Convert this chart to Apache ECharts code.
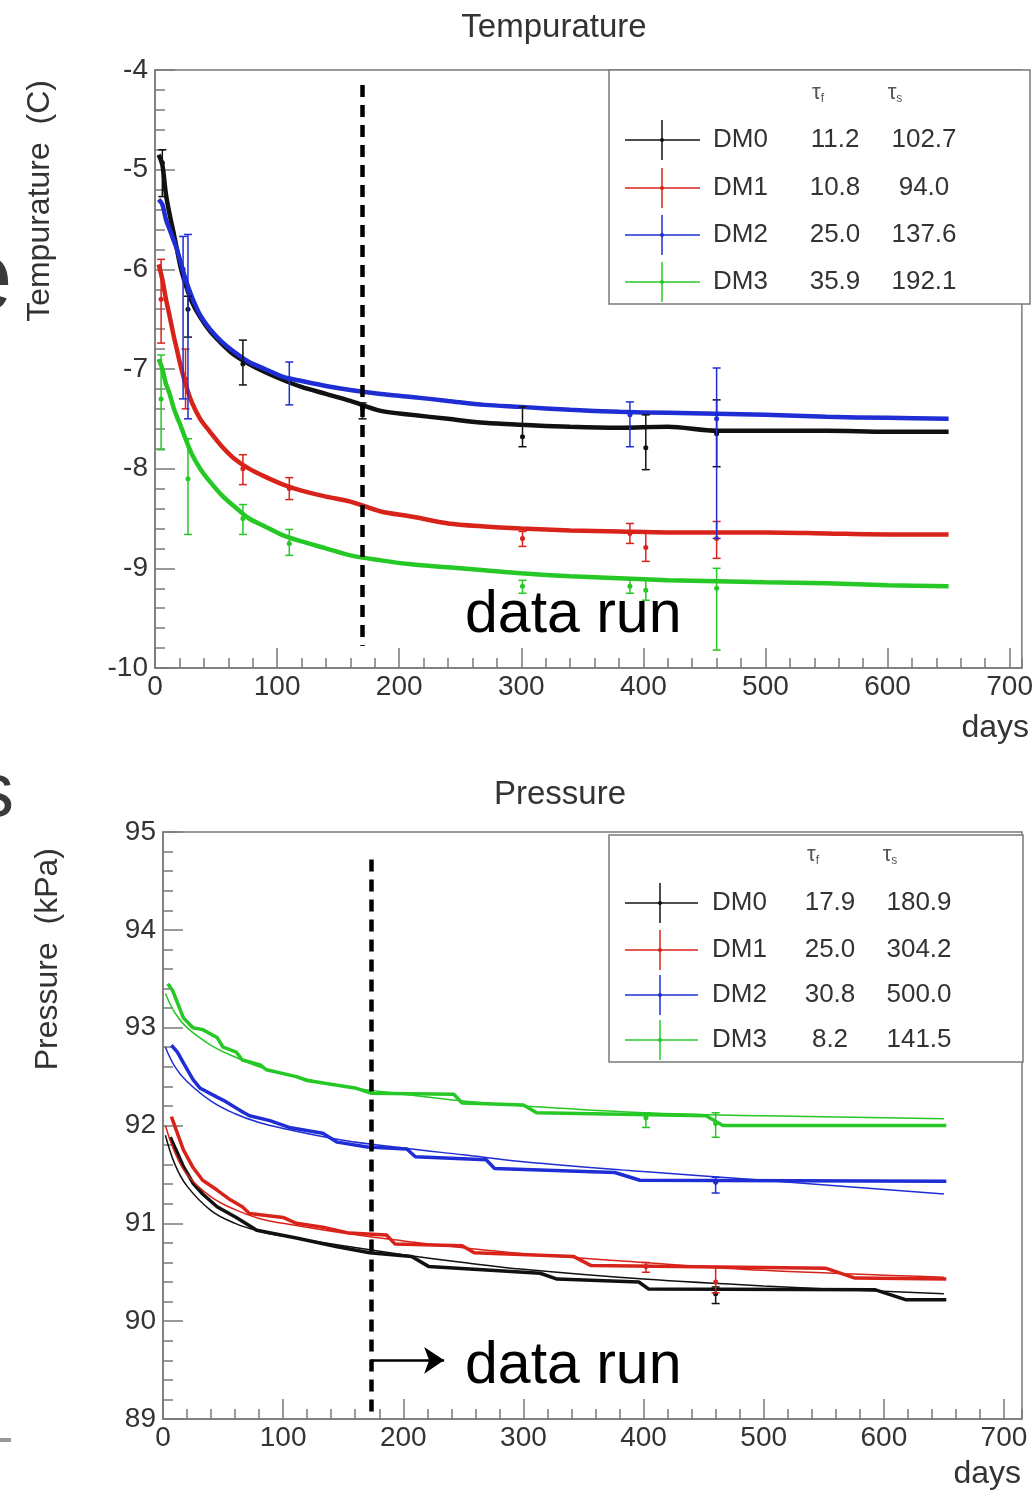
<!DOCTYPE html>
<html>
<head>
<meta charset="utf-8">
<script src="https://cdn.jsdelivr.net/npm/echarts@6/dist/echarts.min.js"></script>
<style>
html,body{margin:0;padding:0;background:#fff;}
#chart{width:1036px;height:1492px;}
</style>
</head>
<body>
<div id="chart"></div>
<script>
// ---------- DATA ----------
const detectors = ['DM0', 'DM1', 'DM2', 'DM3'];
const colors = ['#111111', '#d8231a', '#1f2dd4', '#25c825'];

// Temperature panel
const tempTauF = ['11.2', '10.8', '25.0', '35.9'];
const tempTauS = ['102.7', '94.0', '137.6', '192.1'];
const tempDays = [3, 6, 9, 12, 15, 18, 21, 25, 30, 37, 45, 55, 65, 77, 90, 105, 120, 140, 160, 185, 210, 240, 270, 300, 340, 380, 420, 460, 500, 550, 600, 650];
const tempDM0 = [-4.85, -4.95, -5.25, -5.45, -5.62, -5.8, -5.98, -6.15, -6.32, -6.48, -6.62, -6.75, -6.86, -6.95, -7.03, -7.11, -7.18, -7.25, -7.32, -7.42, -7.46, -7.5, -7.54, -7.56, -7.58, -7.59, -7.58, -7.62, -7.62, -7.62, -7.63, -7.63];
const tempDM1 = [-5.95, -6.1, -6.3, -6.47, -6.65, -6.81, -6.97, -7.15, -7.33, -7.5, -7.63, -7.78, -7.9, -8.0, -8.08, -8.16, -8.22, -8.28, -8.33, -8.43, -8.48, -8.55, -8.58, -8.6, -8.62, -8.63, -8.64, -8.64, -8.64, -8.65, -8.66, -8.66];
const tempDM2 = [-5.3, -5.35, -5.5, -5.6, -5.7, -5.8, -5.93, -6.1, -6.27, -6.46, -6.6, -6.73, -6.83, -6.93, -7.0, -7.08, -7.12, -7.17, -7.21, -7.25, -7.28, -7.32, -7.36, -7.38, -7.41, -7.43, -7.44, -7.45, -7.46, -7.48, -7.49, -7.5];
const tempDM3 = [-6.9, -7.0, -7.15, -7.25, -7.38, -7.48, -7.57, -7.7, -7.85, -8.0, -8.13, -8.27, -8.38, -8.5, -8.58, -8.67, -8.73, -8.8, -8.87, -8.92, -8.96, -8.99, -9.02, -9.05, -9.08, -9.1, -9.12, -9.13, -9.14, -9.15, -9.17, -9.18];
// error bars: [day, value, low, high]
const tempErrDM0 = [[6, -4.93, -5.27, -4.8], [27, -6.4, -6.68, -6.27], [72, -6.95, -7.16, -6.71], [170, -7.4, -7.5, -7.34], [301, -7.68, -7.78, -7.38], [402, -7.79, -8.01, -7.46], [460, -7.65, -7.98, -7.31]];
const tempErrDM1 = [[5, -6.3, -6.74, -5.9], [25, -7.1, -7.4, -6.8], [72, -8.0, -8.16, -7.86], [110, -8.2, -8.31, -8.09], [301, -8.7, -8.78, -8.63], [389, -8.65, -8.75, -8.55], [402, -8.79, -8.93, -8.64], [460, -8.7, -8.9, -8.53]];
const tempErrDM2 = [[23, -6.0, -7.3, -5.67], [27, -6.2, -7.5, -5.65], [110, -7.1, -7.36, -6.93], [389, -7.46, -7.78, -7.33], [460, -7.5, -8.7, -6.99]];
const tempErrDM3 = [[5, -7.3, -7.81, -6.86], [27, -8.1, -8.66, -7.7], [72, -8.5, -8.66, -8.36], [110, -8.75, -8.87, -8.61], [301, -9.18, -9.25, -9.12], [389, -9.18, -9.25, -9.1], [402, -9.22, -9.32, -9.12], [460, -9.2, -9.82, -9.0]];
const tempDataRunDay = 170;

// Pressure panel
const presTauF = ['17.9', '25.0', '30.8', '8.2'];
const presTauS = ['180.9', '304.2', '500.0', '141.5'];
const presDaysDM0 = [6, 12, 17, 25, 33, 45, 61, 78, 111, 145, 172, 207, 221, 314, 328, 396, 404, 593, 618, 652];
const presDM0 = [91.88, 91.72, 91.58, 91.41, 91.3, 91.17, 91.06, 90.93, 90.85, 90.76, 90.7, 90.66, 90.56, 90.49, 90.43, 90.4, 90.33, 90.32, 90.22, 90.22];
const presDaysDM1 = [7, 12, 17, 25, 33, 45, 56, 66, 72, 100, 111, 133, 155, 186, 193, 249, 259, 342, 356, 552, 576, 652];
const presDM1 = [92.09, 91.92, 91.75, 91.57, 91.44, 91.34, 91.24, 91.17, 91.1, 91.06, 91.0, 90.96, 90.9, 90.88, 90.79, 90.77, 90.7, 90.66, 90.57, 90.54, 90.44, 90.43];
const presDaysDM2 = [7, 12, 17, 25, 31, 45, 50, 66, 72, 89, 105, 133, 145, 170, 203, 210, 269, 276, 376, 397, 652];
const presDM2 = [92.82, 92.75, 92.64, 92.47, 92.38, 92.29, 92.26, 92.14, 92.1, 92.05, 91.98, 91.92, 91.83, 91.78, 91.76, 91.68, 91.65, 91.56, 91.52, 91.44, 91.43];
const presDaysDM3 = [4, 8, 17, 25, 33, 45, 50, 61, 66, 81, 86, 111, 120, 161, 173, 242, 249, 300, 311, 452, 466, 652];
const presDM3 = [93.45, 93.38, 93.1, 93.0, 92.98, 92.9, 92.8, 92.75, 92.67, 92.62, 92.57, 92.5, 92.46, 92.38, 92.33, 92.32, 92.23, 92.21, 92.13, 92.1, 92.0, 92.0];
const presFitDays = [2, 10, 20, 40, 60, 80, 100, 150, 200, 250, 300, 400, 500, 650];
const presFitDM0 = [91.9, 91.6, 91.38, 91.13, 91.0, 90.92, 90.87, 90.77, 90.68, 90.6, 90.53, 90.43, 90.36, 90.28];
const presFitDM1 = [92.0, 91.72, 91.5, 91.27, 91.14, 91.05, 91.0, 90.9, 90.82, 90.75, 90.69, 90.6, 90.52, 90.45];
const presFitDM2 = [92.8, 92.6, 92.45, 92.25, 92.12, 92.03, 91.97, 91.85, 91.77, 91.7, 91.63, 91.53, 91.44, 91.3];
const presFitDM3 = [93.35, 93.15, 93.0, 92.82, 92.7, 92.6, 92.53, 92.4, 92.32, 92.25, 92.2, 92.13, 92.1, 92.07];
const presErrDM0 = [[460, 90.28, 90.18, 90.35]];
const presErrDM1 = [[402, 90.56, 90.5, 90.6], [460, 90.4, 90.29, 90.55]];
const presErrDM2 = [[460, 91.42, 91.31, 91.47]];
const presErrDM3 = [[402, 92.08, 91.98, 92.13], [460, 92.02, 91.88, 92.13]];
const presDataRunDay = 173;
const presArrowEndDay = 234;

const xTicks = [0, 100, 200, 300, 400, 500, 600, 700];

// ---------- CHART ----------
const FONT = '"Liberation Sans", Arial, Helvetica, sans-serif';
const FRAME = '#7a7a7a';
const LABEL = '#333333';

function zip(xs, ys) { return xs.map((x, i) => [x, ys[i]]); }

function errItem(params, api) {
  const x = api.value(0), v = api.value(1), lo = api.value(2), hi = api.value(3);
  const p = api.coord([x, v]), a = api.coord([x, lo]), b = api.coord([x, hi]);
  const c = api.visual('color');
  return {
    type: 'group',
    children: [
      {type: 'line', shape: {x1: a[0], y1: a[1], x2: b[0], y2: b[1]}, style: {stroke: c, lineWidth: 1.5}},
      {type: 'line', shape: {x1: a[0] - 4, y1: a[1], x2: a[0] + 4, y2: a[1]}, style: {stroke: c, lineWidth: 1.5}},
      {type: 'line', shape: {x1: b[0] - 4, y1: b[1], x2: b[0] + 4, y2: b[1]}, style: {stroke: c, lineWidth: 1.5}},
      {type: 'circle', shape: {cx: p[0], cy: p[1], r: 2.5}, style: {fill: c}}
    ]
  };
}

function xAxisPair(grid, max) {
  return [
    {
      gridIndex: grid, type: 'value', position: 'bottom', min: 0, max: max, interval: 100,
      axisLine: {show: true, onZero: false, lineStyle: {color: FRAME, width: 1.5}},
      axisTick: {inside: true, length: 20, lineStyle: {color: FRAME, width: 1.5}},
      axisLabel: {fontSize: 28, color: LABEL, fontFamily: FONT, margin: 5, showMaxLabel: false,
        formatter: v => (xTicks.indexOf(v) >= 0 ? String(v) : '')},
      splitLine: {show: false}
    },
    {
      gridIndex: grid, type: 'value', position: 'bottom', offset: 0, min: 0, max: max, interval: 20,
      axisLine: {show: false, onZero: false},
      axisTick: {inside: true, length: 10, lineStyle: {color: FRAME, width: 1.5}},
      axisLabel: {show: false},
      splitLine: {show: false}
    }
  ];
}

function yAxis(grid, min, max) {
  return {
    gridIndex: grid, type: 'value', position: 'left', min: min, max: max, interval: 1,
    axisLine: {show: true, onZero: false, lineStyle: {color: FRAME, width: 1.5}},
    axisTick: {inside: true, length: 20, lineStyle: {color: FRAME, width: 1.5}},
    minorTick: {show: true, splitNumber: 5, length: 10, lineStyle: {color: FRAME, width: 1.5}},
    axisLabel: {fontSize: 28, color: LABEL, fontFamily: FONT, margin: 7},
    splitLine: {show: false}
  };
}

function legend(box, headY, tauX, rowYs, lineX, crossX, labelX, valX, tf, ts) {
  const ch = [];
  ch.push({type: 'rect', shape: {x: box[0], y: box[1], width: box[2], height: box[3]},
    style: {fill: '#fff', stroke: FRAME, lineWidth: 1.5}});
  ['f', 's'].forEach((sub, k) => {
    ch.push({type: 'text', x: tauX[k], y: headY, style: {
      text: '{t|τ}{s|' + sub + '}', align: 'center', verticalAlign: 'middle',
      rich: {t: {fontSize: 22, fontFamily: FONT, fill: '#555'}, s: {fontSize: 12, fontFamily: FONT, fill: '#555', padding: [12, 0, 0, 0]}}
    }});
  });
  detectors.forEach((d, i) => {
    const y = rowYs[i];
    ch.push({type: 'line', shape: {x1: lineX[0], y1: y, x2: lineX[1], y2: y}, style: {stroke: colors[i], lineWidth: 2, opacity: 0.75}});
    ch.push({type: 'line', shape: {x1: crossX, y1: y - 20, x2: crossX, y2: y + 20}, style: {stroke: colors[i], lineWidth: 2, opacity: 0.75}});
    ch.push({type: 'circle', shape: {cx: crossX, cy: y, r: 2}, style: {fill: colors[i]}});
    ch.push({type: 'text', x: labelX, y: y, style: {text: d, fontSize: 26, fontFamily: FONT, fill: LABEL, align: 'left', verticalAlign: 'middle'}});
    ch.push({type: 'text', x: valX[0], y: y, style: {text: tf[i], fontSize: 26, fontFamily: FONT, fill: LABEL, align: 'center', verticalAlign: 'middle'}});
    ch.push({type: 'text', x: valX[1], y: y, style: {text: ts[i], fontSize: 26, fontFamily: FONT, fill: LABEL, align: 'center', verticalAlign: 'middle'}});
  });
  return {type: 'group', children: ch, z: 100};
}

const tempSeries = [tempDM0, tempDM1, tempDM2, tempDM3];
const tempErrs = [tempErrDM0, tempErrDM1, tempErrDM2, tempErrDM3];
const presDays = [presDaysDM0, presDaysDM1, presDaysDM2, presDaysDM3];
const presSeries = [presDM0, presDM1, presDM2, presDM3];
const presFits = [presFitDM0, presFitDM1, presFitDM2, presFitDM3];
const presErrs = [presErrDM0, presErrDM1, presErrDM2, presErrDM3];

const series = [];
const drawOrder = [0, 1, 3, 2];
drawOrder.forEach(i => {
  series.push({
    type: 'line', name: detectors[i] + ' T', xAxisIndex: 0, yAxisIndex: 0,
    data: zip(tempDays, tempSeries[i]), showSymbol: false, smooth: 0.3,
    lineStyle: {color: colors[i], width: 4.5}, itemStyle: {color: colors[i]}, z: 3
  });
  series.push({
    type: 'custom', name: detectors[i] + ' T err', xAxisIndex: 0, yAxisIndex: 0,
    data: tempErrs[i], renderItem: errItem, encode: {x: 0, y: [1, 2, 3]},
    itemStyle: {color: colors[i]}, z: 4
  });
});
[0, 1, 2, 3].forEach(i => {
  series.push({
    type: 'line', name: detectors[i] + ' P fit', xAxisIndex: 2, yAxisIndex: 1,
    data: zip(presFitDays, presFits[i]), showSymbol: false, smooth: 0.4,
    lineStyle: {color: colors[i], width: 1.5}, z: 3
  });
  series.push({
    type: 'line', name: detectors[i] + ' P', xAxisIndex: 2, yAxisIndex: 1,
    data: zip(presDays[i], presSeries[i]), showSymbol: false,
    lineStyle: {color: colors[i], width: 3.5}, z: 3
  });
  series.push({
    type: 'custom', name: detectors[i] + ' P err', xAxisIndex: 2, yAxisIndex: 1,
    data: presErrs[i], renderItem: errItem, encode: {x: 0, y: [1, 2, 3]},
    itemStyle: {color: colors[i]}, z: 4
  });
});
// dashed "data run" markers
series.push({
  type: 'line', xAxisIndex: 0, yAxisIndex: 0, data: [], silent: true,
  markLine: {silent: true, symbol: 'none', label: {show: false},
    lineStyle: {color: '#000', width: 4.5, type: [12, 8]},
    data: [[{coord: [tempDataRunDay, -4.15]}, {coord: [tempDataRunDay, -9.78]}]]}
});
series.push({
  type: 'line', xAxisIndex: 2, yAxisIndex: 1, data: [], silent: true,
  markLine: {silent: true, symbol: 'none', label: {show: false},
    lineStyle: {color: '#000', width: 4.5, type: [12, 8]},
    data: [[{coord: [presDataRunDay, 94.72]}, {coord: [presDataRunDay, 89.0]}]]}
});
series.push({
  type: 'line', xAxisIndex: 2, yAxisIndex: 1, data: [], silent: true,
  markLine: {silent: true, symbol: ['none', 'arrow'], symbolSize: 20, label: {show: false},
    lineStyle: {color: '#000', width: 2.5, type: 'solid'},
    data: [[{coord: [presDataRunDay, 89.6]}, {coord: [presArrowEndDay, 89.6]}]]}
});

const option = {
  animation: false,
  backgroundColor: '#fff',
  title: [
    {text: 'Tempurature', left: 549, top: 6, textAlign: 'center', textStyle: {fontSize: 33, fontWeight: 'normal', color: LABEL, fontFamily: FONT}},
    {text: 'Pressure', left: 555, top: 773, textAlign: 'center', textStyle: {fontSize: 33, fontWeight: 'normal', color: LABEL, fontFamily: FONT}}
  ],
  grid: [
    {left: 155, top: 70, width: 875, height: 598, show: true, borderColor: FRAME, borderWidth: 1.5, backgroundColor: 'transparent'},
    {left: 163, top: 832, width: 859, height: 587, show: true, borderColor: FRAME, borderWidth: 1.5, backgroundColor: 'transparent'}
  ],
  xAxis: xAxisPair(0, 710).concat(xAxisPair(1, 715)),
  yAxis: [yAxis(0, -10, -4), yAxis(1, 89, 95)],
  series: series,
  graphic: [
    // axis titles
    {type: 'text', x: 40, y: 80, rotation: Math.PI / 2, style: {text: 'Tempurature  (C)', fontSize: 32, fontFamily: FONT, fill: LABEL, align: 'right', verticalAlign: 'middle'}},
    {type: 'text', x: 48, y: 848, rotation: Math.PI / 2, style: {text: 'Pressure  (kPa)', fontSize: 32, fontFamily: FONT, fill: LABEL, align: 'right', verticalAlign: 'middle'}},
    {type: 'text', x: 1029, y: 728, style: {text: 'days', fontSize: 32, fontFamily: FONT, fill: LABEL, align: 'right', verticalAlign: 'middle'}},
    {type: 'text', x: 1021, y: 1474, style: {text: 'days', fontSize: 32, fontFamily: FONT, fill: LABEL, align: 'right', verticalAlign: 'middle'}},
    // annotations
    {type: 'text', x: 465, y: 616, z: 50, style: {text: 'data run', fontSize: 59, fontFamily: FONT, fill: '#000', align: 'left', verticalAlign: 'middle'}},
    {type: 'text', x: 465, y: 1367, z: 50, style: {text: 'data run', fontSize: 59, fontFamily: FONT, fill: '#000', align: 'left', verticalAlign: 'middle'}},
    // slide fragments at left edge
    {type: 'text', x: -43, y: 282, style: {text: 'e', fontSize: 100, fontFamily: FONT, fill: '#3a3a3a', align: 'left', verticalAlign: 'middle'}},
    {type: 'text', x: -24, y: 795, style: {text: 's', fontSize: 76, fontFamily: FONT, fill: '#3a3a3a', align: 'left', verticalAlign: 'middle'}},
    {type: 'rect', shape: {x: 0, y: 1438, width: 11, height: 4}, style: {fill: '#999'}},
    // legends
    legend([609, 70, 421, 234], 93, [818, 895], [140, 188, 235, 282], [625, 700], 662, 713, [835, 924], tempTauF, tempTauS),
    legend([609, 835, 414, 227], 855, [813, 890], [903, 950, 995, 1040], [625, 698], 660, 712, [830, 919], presTauF, presTauS)
  ]
};

const chart = echarts.init(document.getElementById('chart'), null, {renderer: 'canvas'});
chart.setOption(option);
</script>
</body>
</html>
